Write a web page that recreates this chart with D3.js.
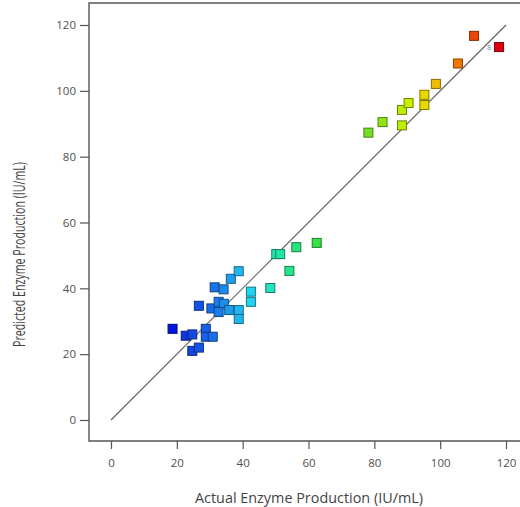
<!DOCTYPE html>
<html>
<head>
<meta charset="utf-8">
<script src="https://cdn.jsdelivr.net/npm/d3@7"></script>
<style>
  html, body { margin: 0; padding: 0; background: #fff; }
  svg { display: block; }
  text { font-family: "Open Sans", "Noto Sans", sans-serif; }
</style>
</head>
<body>
<svg id="chart" width="520" height="507"></svg>
<script>
// ---- data ----
const actual    = [18.7, 22.7, 24.7, 28.8, 28.8, 30.9, 24.7, 26.7, 26.7, 30.5, 32.7, 34.3, 32.7, 35.9, 38.8, 38.8,
                   31.5, 34.2, 36.4, 38.8, 42.5, 42.5, 48.4, 50.2, 51.4, 54.2, 56.3, 62.5,
                   78.2, 82.5, 88.4, 88.4, 90.4, 95.2, 95.2, 98.7, 105.4, 110.3, 117.9];
const predicted = [27.7, 25.6, 26.0, 27.7, 25.3, 25.3, 21.0, 22.0, 34.7, 33.9, 35.9, 35.3, 32.8, 33.4, 33.4, 30.7,
                   40.3, 39.7, 42.9, 45.2, 39.0, 35.9, 40.1, 50.4, 50.4, 45.3, 52.5, 53.8,
                   87.3, 90.5, 89.5, 94.2, 96.3, 95.7, 98.8, 102.1, 108.3, 116.7, 113.3];
const xTicks = [0, 20, 40, 60, 80, 100, 120];
const yTicks = [0, 20, 40, 60, 80, 100, 120];
const colorStops  = [18, 25, 32, 39, 44, 52, 62, 80, 90, 97, 106, 118];
const colorValues = ["#0010dd", "#1448e4", "#1a76ea", "#20b8f0", "#22e0f0", "#22e4a0", "#34e048",
                     "#80e020", "#c8f000", "#f0d000", "#f07000", "#e00010"];
const xTitle = "Actual Enzyme Production (IU/mL)";
const yTitle = "Predicted Enzyme  Production (IU/mL)";
const pointLabel = "8";

// ---- layout ----
const svg = d3.select("#chart");
const frame = { left: 89, top: 3, bottom: 441, right: 521 };
const x = d3.scaleLinear().domain([0, 120]).range([111, 506]);
const y = d3.scaleLinear().domain([0, 120]).range([420, 25]);
const color = d3.scaleLinear().domain(colorStops).range(colorValues).clamp(true);
const axisColor = "#555";

// frame
svg.append("path")
  .attr("d", `M${frame.right},${frame.top}H${frame.left}V${frame.bottom}H${frame.right}`)
  .attr("fill", "none").attr("stroke", axisColor).attr("stroke-width", 1.4);

// axes
const yAxis = svg.append("g").attr("transform", `translate(${frame.left},0)`)
  .call(d3.axisLeft(y).tickValues(yTicks).tickSize(9).tickPadding(4));
const xAxis = svg.append("g").attr("transform", `translate(0,${frame.bottom})`)
  .call(d3.axisBottom(x).tickValues(xTicks).tickSize(8).tickPadding(10));
[xAxis, yAxis].forEach(g => {
  g.select(".domain").remove();
  g.selectAll(".tick line").attr("stroke", axisColor).attr("stroke-width", 1.2);
  g.selectAll(".tick text").attr("fill", "#505050").style("font-size", "11.5px")
    .style("font-family", "'Open Sans', 'Noto Sans', sans-serif");
});

// diagonal reference line
svg.append("line")
  .attr("x1", x(0)).attr("y1", y(0)).attr("x2", x(120)).attr("y2", y(120))
  .attr("stroke", "#666").attr("stroke-width", 1.2);

// points
const pts = actual.map((a, i) => ({ a, p: predicted[i] }));
const s = 9;
svg.append("g").selectAll("rect").data(pts).join("rect")
  .attr("x", d => x(d.a) - s / 2).attr("y", d => y(d.p) - s / 2)
  .attr("width", s).attr("height", s)
  .attr("fill", d => color(d.a))
  .attr("stroke", d => d3.color(color(d.a)).darker(1.6))
  .attr("stroke-width", 1);

// small label near the top point
const last = pts[pts.length - 1];
svg.append("text")
  .attr("x", x(last.a) - 10).attr("y", y(last.p) + 3)
  .attr("text-anchor", "middle").attr("fill", "#6a7fa0").style("font-size", "7px")
  .text(pointLabel);

// titles
svg.append("text")
  .attr("x", 309).attr("y", 503).attr("text-anchor", "middle")
  .attr("fill", "#444").style("font-size", "14px")
  .attr("textLength", 228).attr("lengthAdjust", "spacingAndGlyphs")
  .text(xTitle);
svg.append("text")
  .attr("transform", "translate(24.5,254.5) rotate(-90)").attr("text-anchor", "middle")
  .attr("fill", "#444").style("font-size", "16px")
  .attr("textLength", 185).attr("lengthAdjust", "spacingAndGlyphs")
  .text(yTitle);
</script>
</body>
</html>
